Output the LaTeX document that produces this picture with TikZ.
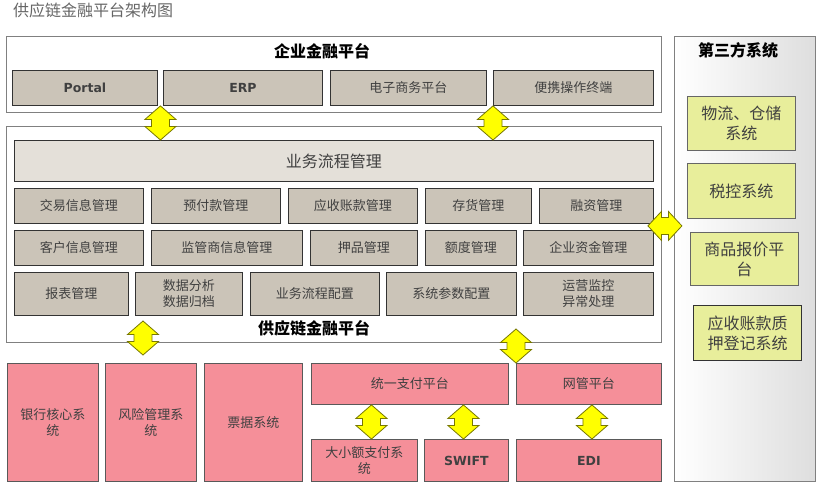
\documentclass[tikz,border=0pt]{standalone}
\usepackage{fontspec}
\setmainfont{Noto Sans CJK SC}
\newfontfamily\latb{DejaVu Sans}
\usetikzlibrary{calc}
\definecolor{graybox}{RGB}{203,196,184}
\definecolor{lightbox}{RGB}{228,224,217}
\definecolor{greenbox}{RGB}{232,238,155}
\definecolor{pinkbox}{RGB}{245,143,153}
\definecolor{txt}{RGB}{64,64,64}
\definecolor{arrfill}{RGB}{255,255,0}
\definecolor{arrline}{RGB}{120,120,0}
\newcommand\bx[7]{\node[#6,anchor=north west,minimum width={(#4-#2)*1pt},minimum height={(#5-#3)*1pt}] (#1) at (#2,#3) {#7};}
\newcommand\vdbl[2]{\draw[arr] let \p1=(#1), \p2=(#2) in
 (\x1,\y1) -- ++(15.5pt,-13.5pt) -- ++(-6.5pt,0) -- (\x1+9pt,\y2+13.5pt) -- ++(6.5pt,0) -- (\x2,\y2)
 -- ++(-15.5pt,13.5pt) -- ++(6.5pt,0) -- (\x1-9pt,\y1-13.5pt) -- ++(-6.5pt,0) -- cycle;}
\newcommand\hdbl[2]{\draw[arr] let \p1=(#1), \p2=(#2) in
 (\x1,\y1) -- ++(13.5pt,14.5pt) -- ++(0,-6pt) -- (\x2-13.5pt,\y1+8.5pt) -- ++(0,6pt) -- (\x2,\y2)
 -- ++(-13.5pt,-14.5pt) -- ++(0,6pt) -- (\x1+13.5pt,\y1-8.5pt) -- ++(0,-6pt) -- cycle;}
\tikzset{
 base/.style={inner sep=0pt, align=center, text=txt, font=\fontsize{13}{16}\selectfont},
 outer/.style={draw=black!50, line width=1pt, fill=white},
 gbox/.style={base, draw=black!80, line width=0.9pt, fill=graybox},
 lat/.style={font=\latb\bfseries\fontsize{12.5}{15}\selectfont},
 wbox/.style={base, draw=black!80, line width=0.9pt, fill=lightbox, font=\fontsize{16}{19}\selectfont},
 grbox/.style={base, draw=black!60, line width=0.9pt, fill=greenbox, font=\fontsize{16}{20}\selectfont},
 pbox/.style={base, draw=black!65, line width=0.9pt, fill=pinkbox},
 thirdsty/.style={draw=black!50, line width=1.2pt, left color=white, right color=black!13},
 ttl/.style={inner sep=0pt, text=black, font=\bfseries\fontsize{16}{19}\selectfont},
 arr/.style={draw=arrline, fill=arrfill, line width=0.8pt, line join=miter}
}
\begin{document}
\begin{tikzpicture}[x=1pt,y=-1pt]
\useasboundingbox (0,0) rectangle (824,490);
\node[anchor=west, inner sep=0pt, text=black!60, font=\fontsize{16}{18}\selectfont] (title) at (13,10) {供应链金融平台架构图};
% enterprise platform
\bx{ent}{6}{36}{661}{112}{outer}{}
\node[ttl] (entT) at (322,51) {企业金融平台};
\bx{portal}{12}{70}{157}{105}{gbox,lat}{Portal}
\bx{erp}{163}{70}{322}{105}{gbox,lat}{ERP}
\bx{ecom}{330}{70}{486}{105}{gbox}{电子商务平台}
\bx{mobile}{493}{70}{653}{105}{gbox}{便携操作终端}
% supply chain finance platform
\bx{scf}{6}{126}{661}{342}{outer}{}
\bx{work}{14}{140}{653}{181}{wbox}{业务流程管理}
\bx{trade}{14}{188}{143}{223}{gbox}{交易信息管理}
\bx{prepay}{151}{188}{280}{223}{gbox}{预付款管理}
\bx{recv}{288}{188}{417}{223}{gbox}{应收账款管理}
\bx{stock}{425}{188}{531}{223}{gbox}{存货管理}
\bx{fin}{539}{188}{653}{223}{gbox}{融资管理}
\bx{cust}{14}{230}{143}{265}{gbox}{客户信息管理}
\bx{super}{151}{230}{302}{265}{gbox}{监管商信息管理}
\bx{pledge}{310}{230}{417}{265}{gbox}{押品管理}
\bx{quota}{425}{230}{516}{265}{gbox}{额度管理}
\bx{fund}{523}{230}{653}{265}{gbox}{企业资金管理}
\bx{report}{14}{272}{128}{315}{gbox}{报表管理}
\bx{data}{135}{272}{242}{315}{gbox}{数据分析\\数据归档}
\bx{flowcfg}{250}{272}{379}{315}{gbox}{业务流程配置}
\bx{param}{386}{272}{516}{315}{gbox}{系统参数配置}
\bx{ops}{523}{272}{653}{315}{gbox}{运营监控\\异常处理}
\node[ttl] (scfT) at (314,328) {供应链金融平台};
% third party
\bx{third}{674}{36}{815}{481}{thirdsty}{}
\node[ttl] (thirdT) at (738,50) {第三方系统};
\bx{logi}{687}{96}{795}{150}{grbox}{物流、仓储\\系统}
\bx{tax}{687}{163}{795}{218}{grbox}{税控系统}
\bx{quote}{690}{232}{798}{285}{grbox}{商品报价平\\台}
\bx{preg}{693}{305}{801}{360}{grbox,draw=black!80,line width=1.3pt}{应收账款质\\押登记系统}
% bank side
\bx{bank}{7}{363}{98}{481}{pbox}{银行核心系\\统}
\bx{risk}{105}{363}{196}{481}{pbox}{风险管理系\\统}
\bx{bill}{204}{363}{302}{481}{pbox}{票据系统}
\bx{unify}{311}{363}{508}{404}{pbox}{统一支付平台}
\bx{netm}{516}{363}{661}{404}{pbox}{网管平台}
\bx{bigsmall}{311}{439}{417}{481}{pbox}{大小额支付系\\统}
\bx{swift}{424}{439}{508}{481}{pbox,lat}{SWIFT}
\bx{edi}{516}{439}{661}{481}{pbox,lat}{EDI}
% connectors
\coordinate (a1t) at ($(portal.south east)!.5!(erp.south west)$);
\coordinate (a1b) at (a1t |- work.north);
\coordinate (a2t) at (mobile.south west);
\coordinate (a2b) at (a2t |- work.north);
\coordinate (a3l) at ($(fin.south east)+(-6,2)$);
\coordinate (a3r) at ($(a3l)+(34,0)$);
\coordinate (a4t) at (143,321);
\coordinate (a4b) at (143,355);
\coordinate (a5b) at (netm.north west);
\coordinate (a5t) at ($(a5b)+(0,-34)$);
\coordinate (a6b) at ($(bigsmall.north)+(7,0)$);
\coordinate (a6t) at (a6b |- unify.south);
\coordinate (a7b) at ($(swift.north)+(-3,0)$);
\coordinate (a7t) at (a7b |- unify.south);
\coordinate (a8b) at ($(edi.north)+(3,0)$);
\coordinate (a8t) at (a8b |- netm.south);
\vdbl{a1t}{a1b}
\vdbl{a2t}{a2b}
\hdbl{a3l}{a3r}
\vdbl{a4t}{a4b}
\vdbl{a5t}{a5b}
\vdbl{a6t}{a6b}
\vdbl{a7t}{a7b}
\vdbl{a8t}{a8b}
\end{tikzpicture}
\end{document}
